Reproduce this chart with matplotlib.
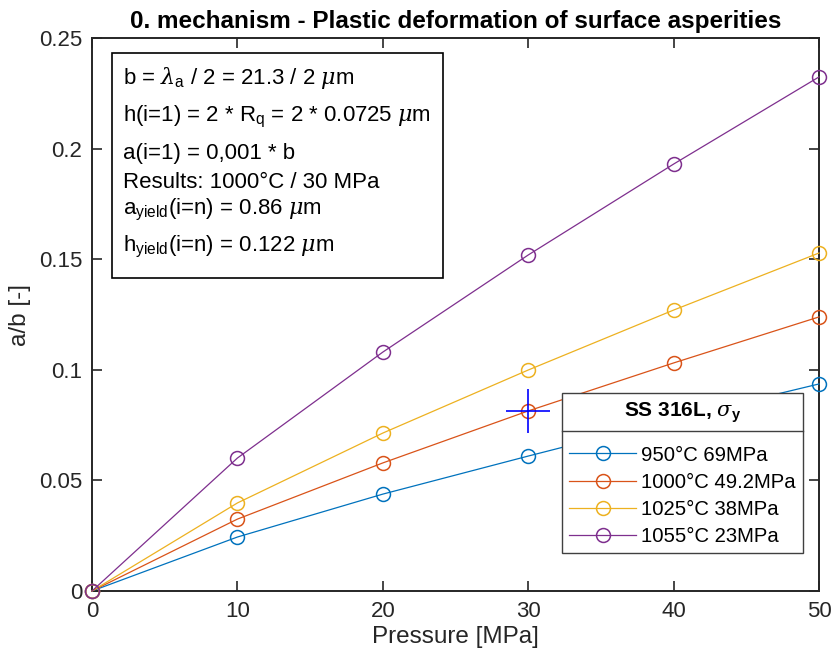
import matplotlib.pyplot as plt
from matplotlib.lines import Line2D
from matplotlib.patches import Rectangle

plt.rcParams['font.family'] = ['Liberation Sans', 'DejaVu Sans']
plt.rcParams['mathtext.fontset'] = 'custom'
plt.rcParams['mathtext.rm'] = 'Liberation Sans'
plt.rcParams['mathtext.it'] = 'DejaVu Serif:italic'
plt.rcParams['mathtext.bf'] = 'Liberation Sans:bold'

pressure = [0, 10, 20, 30, 40, 50]
ab_950 = [0, 0.0244, 0.0438, 0.0610, 0.0778, 0.0936]
ab_1000 = [0, 0.0325, 0.0579, 0.0814, 0.1031, 0.1239]
ab_1025 = [0, 0.0398, 0.0714, 0.0999, 0.1270, 0.1528]
ab_1055 = [0, 0.0601, 0.1080, 0.1519, 0.1930, 0.2324]
labels = ['950°C 69MPa', '1000°C 49.2MPa', '1025°C 38MPa', '1055°C 23MPa']
colors = ['#0072BD', '#D95319', '#EDB120', '#7E2F8E']
# point picked out on the 1000°C curve
sel_p, sel_ab = 30, 0.0814

notes = [
    r'b = $\lambda_{\rm a}$ / 2 = 21.3 / 2 $\mu$m',
    r'h(i=1) = 2 * R$_{\rm q}$ = 2 * 0.0725 $\mu$m',
    'a(i=1) = 0,001 * b',
    'Results: 1000°C / 30 MPa',
    r'a$_{\rm yield}$(i=n) = 0.86 $\mu$m',
    r'h$_{\rm yield}$(i=n) = 0.122 $\mu$m',
]
note_baselines = [84, 121, 159, 188, 214, 251]   # pixel rows

W, H = 834, 664
fig = plt.figure(figsize=(W / 100, H / 100), dpi=100)
ax = fig.add_axes([92 / W, 1 - 591 / H, 727 / W, 553 / H])

for y, lab, c in zip([ab_950, ab_1000, ab_1025, ab_1055], labels, colors):
    ax.plot(pressure, y, '-o', color=c, lw=0.9, mfc='none', mec=c,
            ms=10, mew=1.1, label=lab, clip_on=False, zorder=3)

ax.plot(sel_p, sel_ab, '+', color='blue', ms=32, mew=1.2, zorder=4)

ax.set_xlim(0, 50)
ax.set_ylim(0, 0.25)
ax.set_xticks([0, 10, 20, 30, 40, 50])
ax.set_yticks([0, 0.05, 0.1, 0.15, 0.2, 0.25])
ax.set_yticklabels(['0', '0.05', '0.1', '0.15', '0.2', '0.25'])
ax.tick_params(direction='in', top=True, right=True, length=7, width=1.2,
               labelsize=16, colors='#262626', pad=7)
for s in ax.spines.values():
    s.set_linewidth(1.4)
    s.set_color('#262626')
ax.set_xlabel('Pressure [MPa]', fontsize=17.5, color='#262626', labelpad=3)
ax.set_ylabel('a/b [-]', fontsize=17.5, color='#262626', labelpad=6)
ax.set_title('0. mechanism - Plastic deformation of surface asperities',
             fontsize=17.5, fontweight='bold', pad=7, color='black')

px2fig = lambda px, py: (px / W, 1 - py / H)

# annotation text, box fitted afterwards
txts = []
for py, txt in zip(note_baselines, notes):
    fx, fy = px2fig(123, py)
    txts.append(fig.text(fx, fy, txt, fontsize=16, va='baseline', ha='left',
                         zorder=6))

leg = ax.legend(loc='lower right', bbox_to_anchor=(803 / W, 1 - 553 / H),
                bbox_transform=fig.transFigure, fontsize=14.6,
                title=r'SS 316L, $\sigma_{\bf y}$', frameon=True, fancybox=False,
                framealpha=1, edgecolor='#404040', handlelength=3.3,
                borderpad=0.35, labelspacing=0.4, handletextpad=0.25,
                borderaxespad=0)
leg.get_title().set_fontweight('bold')
leg.get_title().set_fontsize(15)
leg.get_frame().set_linewidth(1.0)
leg.set_zorder(7)
leg._legend_box.sep = 15

fig.canvas.draw()
r = fig.canvas.get_renderer()

right = max(t.get_window_extent(r).x1 for t in txts) + 12
bl = 112 / W
fig.add_artist(Rectangle((bl, 1 - 278 / H), right / W - bl, 225 / H,
                         fc='white', ec='black', lw=1.2, zorder=5))

# separator under the legend title
fb = leg.get_frame().get_window_extent(r)
tb = leg.get_title().get_window_extent(r)
sep_y = tb.y0 - 6
fig.add_artist(Line2D([fb.x0 / W, fb.x1 / W], [sep_y / H, sep_y / H],
                      color='#404040', lw=1.0, zorder=8))

fig.savefig('out.png', dpi=100)
